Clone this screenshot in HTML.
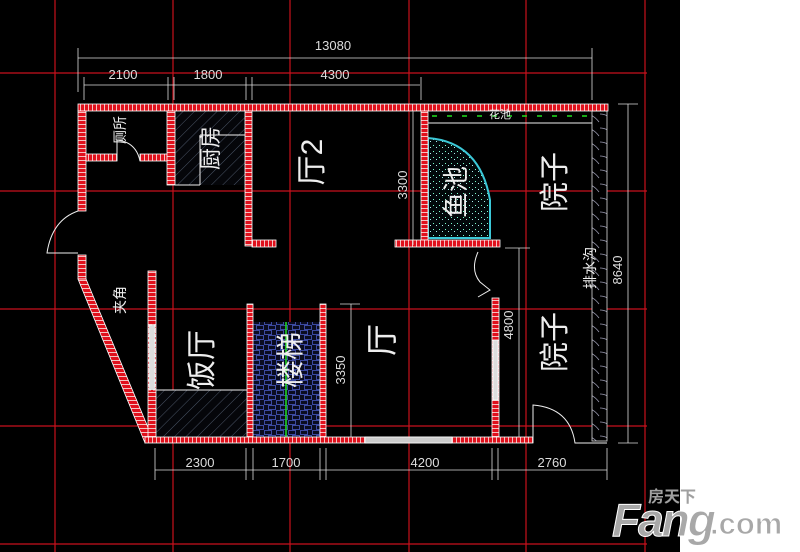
<!DOCTYPE html>
<html><head><meta charset="utf-8"><style>
html,body{margin:0;padding:0;background:#fff;}
svg{display:block;}
text{font-family:"Liberation Sans","Noto Sans CJK SC",sans-serif;}
</style></head><body>
<svg width="800" height="552" viewBox="0 0 800 552" xmlns="http://www.w3.org/2000/svg">
<defs>
<pattern id="brick" width="4" height="4" patternUnits="userSpaceOnUse">
<rect width="4" height="4" fill="#e0101c"/><rect x="0" y="0" width="1" height="4" fill="#f4c0c0"/>
</pattern>
<pattern id="brickv" width="4" height="4" patternUnits="userSpaceOnUse">
<rect width="4" height="4" fill="#e0101c"/><rect x="0" y="0" width="4" height="1" fill="#f4c0c0"/>
</pattern>
<pattern id="hatch" width="8" height="8" patternUnits="userSpaceOnUse" patternTransform="rotate(45)">
<rect width="8" height="8" fill="#05060a"/><line x1="0" y1="0" x2="0" y2="8" stroke="#4a5466" stroke-width="1"/>
</pattern>
<pattern id="stone" width="12" height="10" patternUnits="userSpaceOnUse">
<rect width="12" height="10" fill="#0a0c20"/><rect x="0.5" y="0.5" width="7" height="4" fill="none" stroke="#3c4aa0" stroke-width="1"/><rect x="4.5" y="5.5" width="7" height="4" fill="none" stroke="#3c4aa0" stroke-width="1"/>
</pattern>
<pattern id="dots" width="6" height="6" patternUnits="userSpaceOnUse">
<rect width="6" height="6" fill="#02080a"/><rect x="1" y="1" width="1" height="1" fill="#7fc"/><rect x="4" y="3" width="1" height="1" fill="#aee"/>
</pattern>
<pattern id="scallop" width="15" height="14" patternUnits="userSpaceOnUse">
<rect width="15" height="14" fill="#000"/><path d="M0 2 Q8 2 14 10" fill="none" stroke="#9a9ab0" stroke-width="0.8"/>
</pattern>
</defs>
<rect width="800" height="552" fill="#fff"/>
<rect width="680" height="552" fill="#000"/>
<g stroke="#c8101c" stroke-width="1.2">
<line x1="55" y1="0" x2="55" y2="552"/><line x1="173" y1="0" x2="173" y2="552"/><line x1="290" y1="0" x2="290" y2="552"/>
<line x1="409" y1="0" x2="409" y2="552"/><line x1="526" y1="0" x2="526" y2="552"/><line x1="645" y1="0" x2="645" y2="552"/>
<line x1="0" y1="73" x2="647" y2="73"/><line x1="0" y1="191" x2="647" y2="191"/><line x1="0" y1="309" x2="647" y2="309"/>
<line x1="0" y1="426" x2="647" y2="426"/><line x1="0" y1="544" x2="647" y2="544"/>
</g>
<rect x="175" y="111" width="70" height="74" fill="url(#hatch)"/>
<rect x="156" y="390" width="91" height="47" fill="url(#hatch)"/>
<rect x="253" y="322" width="67" height="115" fill="url(#stone)"/>
<line x1="286" y1="322" x2="286" y2="437" stroke="#20e020" stroke-width="1.5"/>
<path d="M428 138 Q480 142 490 200 L490 238 L428 238 Z" fill="url(#dots)" stroke="#3cc8d8" stroke-width="2"/>
<rect x="592" y="111" width="15" height="330" fill="url(#scallop)" stroke="#ddd" stroke-width="0.8"/>
<g stroke="#fff" stroke-width="0.8">
<rect x="78" y="104" width="530" height="7" fill="url(#brick)"/>
<rect x="78" y="111" width="8" height="100" fill="url(#brickv)"/>
<rect x="78" y="255" width="8" height="24" fill="url(#brickv)"/>
<polygon points="78,279 86,279 152,437 145,443" fill="url(#brickv)"/>
<rect x="86" y="154" width="31" height="7" fill="url(#brick)"/>
<rect x="140" y="154" width="33" height="7" fill="url(#brick)"/>
<rect x="167" y="111" width="8" height="74" fill="url(#brickv)"/>
<rect x="245" y="111" width="7" height="135" fill="url(#brickv)"/>
<rect x="252" y="240" width="24" height="7" fill="url(#brick)"/>
<rect x="421" y="111" width="7" height="129" fill="url(#brickv)"/>
<rect x="395" y="240" width="105" height="7" fill="url(#brick)"/>
<rect x="148" y="271" width="8" height="166" fill="url(#brickv)"/>
<rect x="149" y="325" width="6" height="65" fill="#ddd" stroke-dasharray="3,2"/>
<rect x="247" y="304" width="6" height="137" fill="url(#brickv)"/>
<rect x="320" y="304" width="6" height="137" fill="url(#brickv)"/>
<rect x="492" y="298" width="7" height="139" fill="url(#brickv)"/>
<rect x="493" y="340" width="5" height="60" fill="#ddd"/>
<rect x="145" y="437" width="388" height="6" fill="url(#brick)"/>
<rect x="365" y="437" width="87" height="6" fill="#ccc"/>
</g>
<g fill="none" stroke="#eee" stroke-width="1">
<path d="M78 211 Q52 220 47 253 L78 253"/>
<path d="M117 161 L117 140 Q136 142 140 161"/>
<path d="M533 443 L533 405 Q570 408 575 443 L607 443"/>
<path d="M478 252 Q470 270 480 282 L490 290 L478 297"/>
<line x1="428" y1="123" x2="592" y2="123"/>
<line x1="175" y1="185" x2="200" y2="185"/><line x1="200" y1="135" x2="200" y2="185"/><line x1="200" y1="135" x2="245" y2="135"/>
<line x1="156" y1="390" x2="247" y2="390"/>
</g>
<g stroke="#20e020" stroke-width="1.5" stroke-dasharray="5,10"><line x1="432" y1="116" x2="592" y2="116"/></g>
<g stroke="#ddd" stroke-width="0.8" fill="none">
<line x1="78" y1="58" x2="592" y2="58"/><line x1="78" y1="48" x2="78" y2="92"/><line x1="592" y1="48" x2="592" y2="100"/>
<line x1="84" y1="85" x2="420" y2="85"/>
<line x1="84" y1="77" x2="84" y2="100"/><line x1="168" y1="77" x2="168" y2="100"/><line x1="174" y1="77" x2="174" y2="100"/>
<line x1="246" y1="77" x2="246" y2="100"/><line x1="252" y1="77" x2="252" y2="100"/><line x1="421" y1="77" x2="421" y2="100"/>
<line x1="628" y1="104" x2="628" y2="443"/><line x1="618" y1="104" x2="638" y2="104"/><line x1="618" y1="443" x2="638" y2="443"/>
<line x1="413" y1="111" x2="413" y2="245"/>
<line x1="351" y1="304" x2="351" y2="437"/><line x1="340" y1="304" x2="360" y2="304"/>
<line x1="519" y1="248" x2="519" y2="437"/><line x1="505" y1="248" x2="530" y2="248"/>
<line x1="155" y1="470" x2="607" y2="470"/>
<line x1="155" y1="448" x2="155" y2="480"/><line x1="246" y1="448" x2="246" y2="480"/><line x1="253" y1="448" x2="253" y2="480"/>
<line x1="320" y1="448" x2="320" y2="480"/><line x1="326" y1="448" x2="326" y2="480"/><line x1="492" y1="448" x2="492" y2="480"/>
<line x1="498" y1="448" x2="498" y2="480"/><line x1="607" y1="448" x2="607" y2="480"/>
</g>
<g fill="#ddd" font-size="13">
<text x="333" y="50" text-anchor="middle">13080</text>
<text x="123" y="79" text-anchor="middle">2100</text>
<text x="208" y="79" text-anchor="middle">1800</text>
<text x="335" y="79" text-anchor="middle">4300</text>
<text x="200" y="467" text-anchor="middle">2300</text>
<text x="286" y="467" text-anchor="middle">1700</text>
<text x="425" y="467" text-anchor="middle">4200</text>
<text x="552" y="467" text-anchor="middle">2760</text>
<text transform="translate(407,185) rotate(-90)" text-anchor="middle">3300</text>
<text transform="translate(345,370) rotate(-90)" text-anchor="middle">3350</text>
<text transform="translate(513,325) rotate(-90)" text-anchor="middle">4800</text>
<text transform="translate(622,270) rotate(-90)" text-anchor="middle">8640</text>
</g>
<g fill="#eee">
<text transform="translate(125,130) rotate(-90)" text-anchor="middle" font-size="14">厕所</text>
<text transform="translate(218,148) rotate(-90)" text-anchor="middle" font-size="22">厨房</text>
<text transform="translate(322,162) rotate(-90)" text-anchor="middle" font-size="30">厅2</text>
<text transform="translate(465,192) rotate(-90)" text-anchor="middle" font-size="26">鱼池</text>
<text transform="translate(565,182) rotate(-90)" text-anchor="middle" font-size="30">院子</text>
<text transform="translate(595,268) rotate(-90)" text-anchor="middle" font-size="14">排水沟</text>
<text transform="translate(500,118)" text-anchor="middle" font-size="11">花池</text>
<text transform="translate(125,300) rotate(-90)" text-anchor="middle" font-size="14">夹角</text>
<text transform="translate(212,360) rotate(-90)" text-anchor="middle" font-size="30">饭厅</text>
<text transform="translate(300,360) rotate(-90)" text-anchor="middle" font-size="28">楼梯</text>
<text transform="translate(393,340) rotate(-90)" text-anchor="middle" font-size="32">厅</text>
<text transform="translate(565,342) rotate(-90)" text-anchor="middle" font-size="30">院子</text>
</g>
<text x="612" y="536" font-size="46" font-weight="bold" font-style="italic" fill="#a8a8a8" stroke="#fff" stroke-width="1" letter-spacing="-2">Fang</text>
<text x="710" y="534" font-size="31" font-weight="bold" fill="#a8a8a8" stroke="#fff" stroke-width="1">.com</text>
<text x="648" y="502" font-size="16" font-weight="bold" fill="#a0a0a0">房天下</text>
</svg>
</body></html>
